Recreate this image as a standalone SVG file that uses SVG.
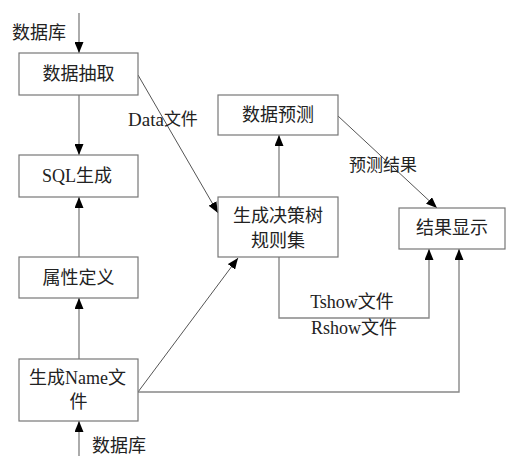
<svg xmlns="http://www.w3.org/2000/svg" width="506" height="456" viewBox="0 0 506 456">
<defs>
<marker id="ah" markerWidth="11" markerHeight="9" refX="11" refY="4.5" orient="auto" markerUnits="userSpaceOnUse">
<path d="M0,0 L11,4.5 L0,9 z" fill="#000"/>
</marker>
<style>
.box{fill:#fff;stroke:#777;stroke-width:1.2}
.t{font-family:"Liberation Serif","Noto Sans CJK SC",serif;font-size:18px;fill:#222;text-anchor:middle;dominant-baseline:central}
.l{font-family:"Liberation Serif","Noto Sans CJK SC",serif;font-size:17px;fill:#222;dominant-baseline:central}
.c{fill:none;stroke:#555;stroke-width:1;marker-end:url(#ah)}
.p{fill:none;stroke:#888;stroke-width:1.4;marker-end:url(#ah)}
</style>
</defs>
<rect width="506" height="456" fill="#fff"/>
<g id="connectors">
<line class="p" x1="79" y1="13" x2="79" y2="53"/>
<line class="p" x1="79" y1="95" x2="79" y2="155"/>
<line class="c" x1="138" y1="75" x2="218" y2="213"/>
<line class="p" x1="79" y1="257" x2="79" y2="197"/>
<line class="p" x1="79" y1="359" x2="79" y2="298"/>
<line class="p" x1="79" y1="456" x2="79" y2="421"/>
<line class="c" x1="138" y1="392" x2="238" y2="258"/>
<line class="p" x1="279" y1="197" x2="279" y2="135"/>
<line class="c" x1="338" y1="116" x2="437" y2="208"/>
<polyline class="p" points="279,257 279,318 429,318 429,249"/>
<polyline class="p" points="138,392 459,392 459,249"/>
<text class="l" x="128" y="119"><tspan font-size="19">Data</tspan>文件</text>
<text class="l" x="349" y="165">预测结果</text>
<text class="t" x="352" y="302">Tshow文件</text>
<text class="t" x="354" y="328">Rshow文件</text>
<text class="t" x="39" y="33">数据库</text>
<text class="t" x="119" y="446">数据库</text>
</g>
<g id="n1"><rect class="box" x="19" y="53" width="119" height="42"/><text class="t" x="78.5" y="74">数据抽取</text></g>
<g id="n2"><rect class="box" x="19" y="155" width="119" height="42"/><text class="t" x="77" y="176">SQL生成</text></g>
<g id="n3"><rect class="box" x="19" y="257" width="119" height="41"/><text class="t" x="78.5" y="278">属性定义</text></g>
<g id="n4"><rect class="box" x="19" y="359" width="119" height="62"/><text class="t" x="77.5" y="378">生成Name文</text><text class="t" x="78.5" y="402">件</text></g>
<g id="n5"><rect class="box" x="218" y="95" width="120" height="40"/><text class="t" x="278" y="115">数据预测</text></g>
<g id="n6"><rect class="box" x="218" y="197" width="120" height="60"/><text class="t" x="278" y="216">生成决策树</text><text class="t" x="278" y="241">规则集</text></g>
<g id="n7"><rect class="box" x="399" y="208" width="106" height="41"/><text class="t" x="452" y="228">结果显示</text></g>
</svg>
